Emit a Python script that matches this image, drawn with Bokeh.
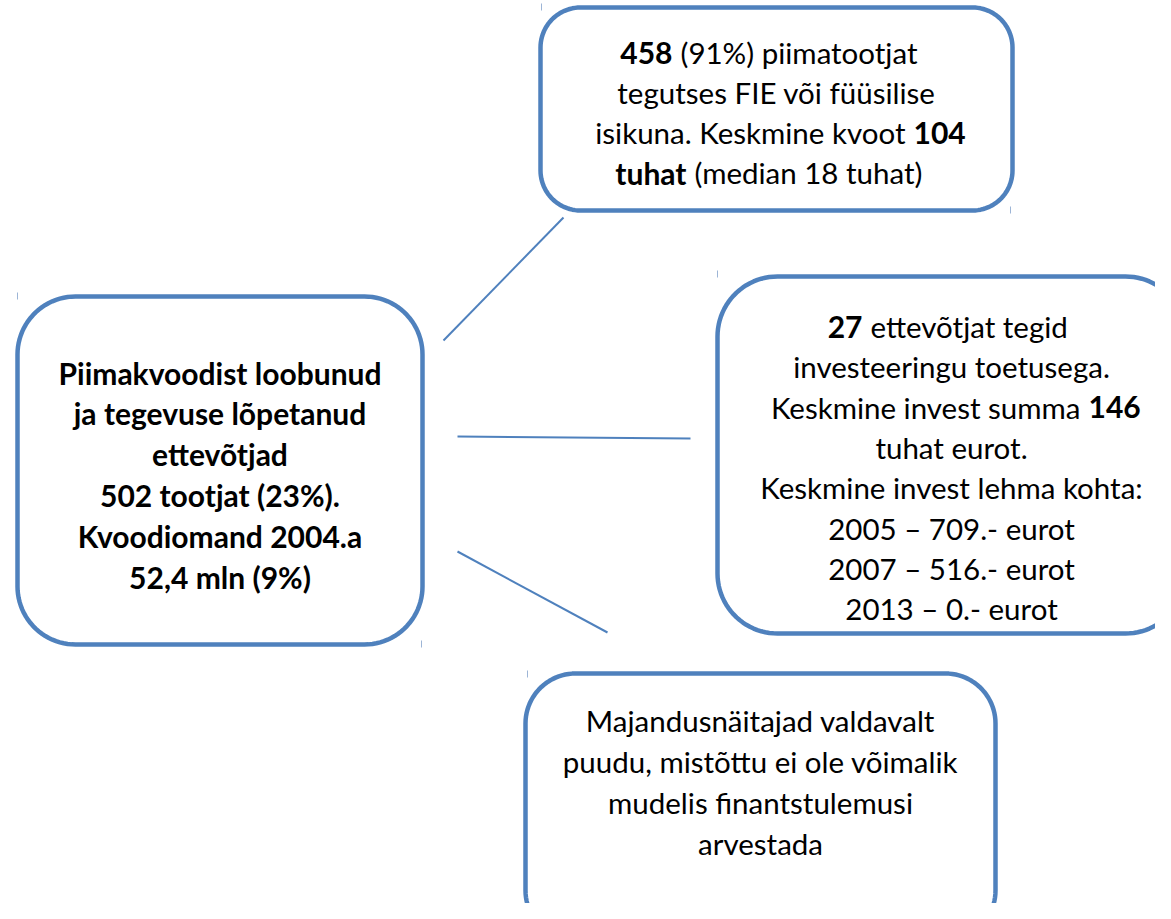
import numpy as np
from bokeh.plotting import figure
from bokeh.models import Range1d, ColumnDataSource
from bokeh.core.properties import value
from bokeh.embed import file_html
from bokeh.resources import INLINE

# ---------------- content ----------------
top_lines = [
    [("458", True), ("(91%) piimatootjat", False)],
    [("tegutses FIE või füüsilise", False)],
    [("isikuna. Keskmine kvoot", False), ("104", True)],
    [("tuhat", True), ("(median 18 tuhat)", False)],
]
left_lines = [
    [("Piimakvoodist loobunud", True)],
    [("ja tegevuse lõpetanud", True)],
    [("ettevõtjad", True)],
    [("502 tootjat (23%).", True)],
    [("Kvoodiomand 2004.a", True)],
    [("52,4 mln (9%)", True)],
]
right_lines = [
    [("27", True), ("ettevõtjat tegid", False)],
    [("investeeringu toetusega.", False)],
    [("Keskmine invest summa", False), ("146", True)],
    [("tuhat eurot.", False)],
    [("Keskmine invest lehma kohta:", False)],
    [("2005 – 709.- eurot", False)],
    [("2007 – 516.- eurot", False)],
    [("2013 – 0.- eurot", False)],
]
bottom_lines = [
    [("Majandusnäitajad valdavalt", False)],
    [("puudu, mistõttu ei ole võimalik", False)],
    [("mudelis finantstulemusi", False)],
    [("arvestada", False)],
]

# ---------------- layout (pixels, y downwards) ----------------
W, H = 1155, 903
FONT = "Lato"
FS_REG = "29.5px"
FS_BOLD = "30px"
BLUE = "#4F81BD"

# box: left, top, right, bottom, radius
boxes = [
    (540, 7, 1012, 210, 40),
    (17, 296, 422, 644, 58),
    (717, 276, 1185, 633, 60),
    (525, 673, 995, 940, 50),
]
# text blocks: lines, center x, vertical centre of first line, line step, split x for mixed lines
blocks = [
    (top_lines, 776, 52, 40.0, {0: 672, 2: 905, 3: 686}),
    (left_lines, 219.5, 372, 40.8, {}),
    (right_lines, 951, 326, 40.3, {0: 862, 2: 1080}),
    (bottom_lines, 760, 720, 41.0, {}),
]
connectors = [((443, 340), (563, 217)), ((457, 436), (690, 438)), ((457, 551), (607, 632))]
marks = [(541, 3, 10), (1010, 206, 213), (17, 292, 299), (421, 640, 647), (717, 270, 277), (527, 670, 677)]

p = figure(width=W, height=H, output_backend="svg", toolbar_location=None,
           x_range=Range1d(0, W), y_range=Range1d(H, 0),
           min_border=0, outline_line_color=None)
p.axis.visible = False
p.grid.visible = False
p.background_fill_color = "white"
p.border_fill_color = "white"


def rounded(l, t, r_, b, rad, n=24):
    xs, ys = [], []
    corners = [
        (r_ - rad, t + rad, -np.pi / 2, 0),
        (r_ - rad, b - rad, 0, np.pi / 2),
        (l + rad, b - rad, np.pi / 2, np.pi),
        (l + rad, t + rad, np.pi, 1.5 * np.pi),
    ]
    for cx, cy, a0, a1 in corners:
        a = np.linspace(a0, a1, n)
        xs.extend(cx + rad * np.cos(a))
        ys.extend(cy + rad * np.sin(a))
    return xs, ys


bx, by = [], []
for l, t, r_, b, rad in boxes:
    xs, ys = rounded(l, t, r_, b, rad)
    bx.append(xs)
    by.append(ys)
p.patches(bx, by, fill_color="white", line_color=BLUE, line_width=4.5)

p.segment([c[0][0] for c in connectors], [c[0][1] for c in connectors],
          [c[1][0] for c in connectors], [c[1][1] for c in connectors],
          line_color=BLUE, line_width=2)

p.segment([m[0] for m in marks], [m[1] for m in marks], [m[0] for m in marks], [m[2] for m in marks],
          line_color="#9DB5D6", line_width=1)

rows = {"x": [], "y": [], "t": [], "align": [], "style": [], "size": []}
GAP = 8


def add(x, y, t, align, bold):
    rows["x"].append(x); rows["y"].append(y); rows["t"].append(t)
    rows["align"].append(align)
    rows["style"].append("bold" if bold else "normal")
    rows["size"].append(FS_BOLD if bold else FS_REG)


for lines, cx, y0, step, splits in blocks:
    for i, segs in enumerate(lines):
        y = y0 + i * step
        if len(segs) == 1:
            txt, bold = segs[0]
            add(cx, y, txt, "center", bold)
        else:
            sx = splits[i]
            (t1, b1), (t2, b2) = segs
            add(sx, y, t1, "right", b1)
            add(sx + GAP, y, t2, "left", b2)

src = ColumnDataSource(rows)
p.text(x="x", y="y", text="t", source=src, text_align="align", text_font_style="style",
       text_font_size="size", text_baseline="middle", text_font=value(FONT), text_color="black")

open("out.html", "w").write(file_html(p, INLINE))
